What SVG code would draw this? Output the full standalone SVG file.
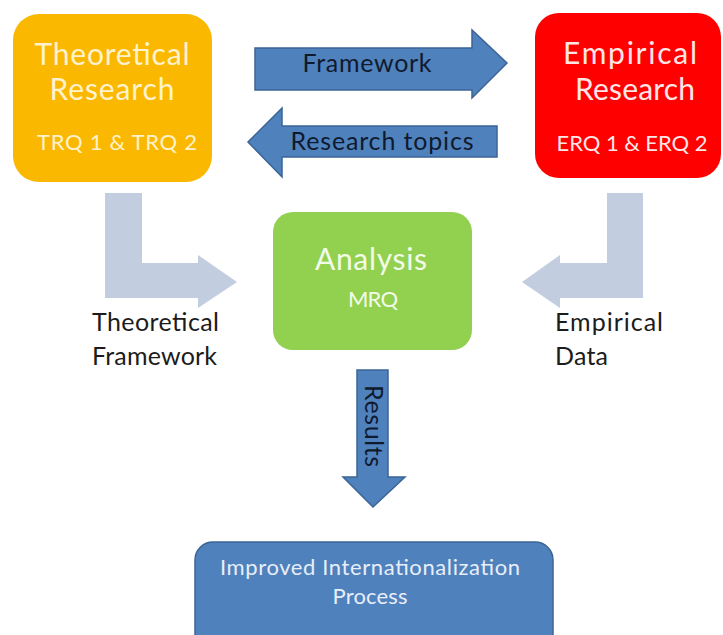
<svg xmlns="http://www.w3.org/2000/svg" width="723" height="635" viewBox="0 0 723 635">
  <style>
    text { font-family: Lato, "Open Sans", "Liberation Sans", sans-serif; }
    .title { font-size: 30px; text-anchor: middle; }
    .sub { font-size: 22px; text-anchor: middle; }
    .lbl { font-size: 25px; fill: #1c1c1c; }
    .arrowtxt { font-size: 25px; fill: #0f1a2e; text-anchor: middle; }
    .boxtxt { font-size: 22px; fill: #e8eef8; text-anchor: middle; }
    .blue { fill: #4f81bd; stroke: #3b6496; stroke-width: 1.5; }
    .pale { fill: #c2cde0; }
  </style>
  <rect width="723" height="635" fill="#ffffff"/>

  <g id="connectors">
    <!-- Framework: left to right -->
    <path class="blue" d="M255,48 H472 V30 L507,63 L472,98 V90 H255 Z"/>
    <text class="arrowtxt" x="367" y="72" textLength="129">Framework</text>
    <!-- Research topics: right to left -->
    <path class="blue" d="M497,126 H282 V108 L248,142 L282,177 V157 H497 Z"/>
    <text class="arrowtxt" x="382" y="150" textLength="183">Research topics</text>
    <!-- Theoretical framework into analysis -->
    <path class="pale" d="M105,193 H142 V263 H198 V255 L237,282 L198,308 V298 H105 Z"/>
    <!-- Empirical data into analysis -->
    <path class="pale" d="M643,193 H607 V263 H560 V255 L522,282 L560,308 V298 H643 Z"/>
    <!-- Results downward -->
    <path class="blue" d="M357,370 H388 V477 H405 L373,507 L343,477 H357 Z"/>
    <text class="arrowtxt" transform="translate(365,426) rotate(90)" textLength="82">Results</text>
  </g>

  <g id="theoretical">
    <rect x="13" y="14" width="199" height="168" rx="26" fill="#fbb800"/>
    <text class="title" x="112" y="65" fill="#fff2cc" textLength="155">Theoretical</text>
    <text class="title" x="112" y="100" fill="#fff2cc" textLength="125">Research</text>
    <text class="sub" x="117" y="150" fill="#fff2cc" textLength="160">TRQ 1 &amp; TRQ 2</text>
  </g>

  <g id="empirical">
    <rect x="535" y="13" width="186" height="165" rx="24" fill="#fe0000"/>
    <text class="title" x="630" y="64" fill="#ffe6e6" textLength="134">Empirical</text>
    <text class="title" x="635" y="100" fill="#ffe6e6" textLength="120">Research</text>
    <text class="sub" x="632" y="151" fill="#ffe6e6" textLength="151">ERQ 1 &amp; ERQ 2</text>
  </g>

  <g id="analysis">
    <rect x="273" y="212" width="199" height="138" rx="20" fill="#92d050"/>
    <text class="title" x="371" y="270" fill="#f2fbe8" textLength="112">Analysis</text>
    <text class="sub" x="373" y="307" fill="#f2fbe8" textLength="50">MRQ</text>
  </g>

  <g id="theoretical-framework">
    <text class="lbl" x="92" y="331" textLength="127">Theoretical</text>
    <text class="lbl" x="92" y="365" textLength="125">Framework</text>
  </g>

  <g id="empirical-data">
    <text class="lbl" x="555" y="331" textLength="108">Empirical</text>
    <text class="lbl" x="555" y="365" textLength="53">Data</text>
  </g>

  <g id="outcome">
    <rect x="195" y="542" width="358" height="110" rx="18" fill="#4f81bd" stroke="#3b6496" stroke-width="1.5"/>
    <text class="boxtxt" x="370" y="575" textLength="300">Improved  Internationalization</text>
    <text class="boxtxt" x="370" y="604" textLength="75">Process</text>
  </g>
</svg>
